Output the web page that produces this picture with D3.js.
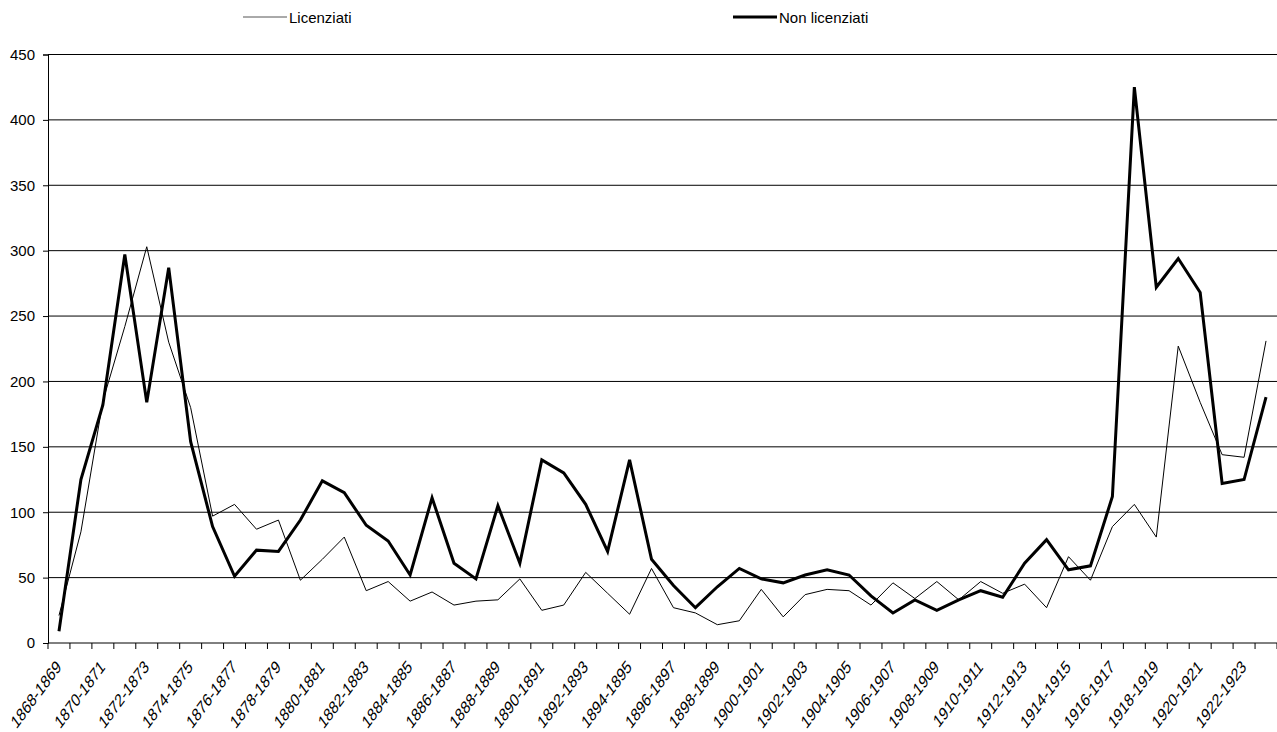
<!DOCTYPE html>
<html>
<head>
<meta charset="utf-8">
<script src="https://cdnjs.cloudflare.com/ajax/libs/d3/7.8.5/d3.min.js"></script>
<style>
  html, body { margin: 0; padding: 0; background: #fff; }
  svg { display: block; font-family: "Liberation Sans", Arial, sans-serif; }
</style>
</head>
<body>
<svg id="chart" width="1277" height="732"></svg>
<script>
// Academic years on the horizontal axis
const categories = [
  "1868-1869","1869-1870","1870-1871","1871-1872","1872-1873","1873-1874","1874-1875","1875-1876",
  "1876-1877","1877-1878","1878-1879","1879-1880","1880-1881","1881-1882","1882-1883","1883-1884",
  "1884-1885","1885-1886","1886-1887","1887-1888","1888-1889","1889-1890","1890-1891","1891-1892",
  "1892-1893","1893-1894","1894-1895","1895-1896","1896-1897","1897-1898","1898-1899","1899-1900",
  "1900-1901","1901-1902","1902-1903","1903-1904","1904-1905","1905-1906","1906-1907","1907-1908",
  "1908-1909","1909-1910","1910-1911","1911-1912","1912-1913","1913-1914","1914-1915","1915-1916",
  "1916-1917","1917-1918","1918-1919","1919-1920","1920-1921","1921-1922","1922-1923","1923-1924"
];

// Series: thin line
const licenziati = [
  21, 85, 185, 242, 303, 230, 180, 97, 106, 87, 94, 48, 64, 81, 40, 47,
  32, 39, 29, 32, 33, 49, 25, 29, 54, 38, 22, 57, 27, 23, 14, 17,
  41, 20, 37, 41, 40, 29, 46, 34, 47, 33, 47, 38, 45, 27, 66, 48,
  89, 106, 81, 227, 184, 144, 142, 231
];

// Series: heavy line
const nonLicenziati = [
  9, 125, 182, 297, 184, 287, 154, 89, 51, 71, 70, 94, 124, 115, 90, 78,
  52, 111, 61, 49, 105, 61, 140, 130, 106, 70, 140, 64, 44, 27, 43, 57,
  49, 46, 52, 56, 52, 36, 23, 33, 25, 33, 40, 35, 61, 79, 56, 59,
  112, 425, 272, 294, 268, 122, 125, 188
];

const yTicks = [0, 50, 100, 150, 200, 250, 300, 350, 400, 450];
const seriesNames = ["Licenziati", "Non licenziati"];

const svg = d3.select("#chart");
const plotLeft = 48, plotRight = 1277, plotTop = 54.5, plotBottom = 643;

const x = d3.scaleBand().domain(categories).range([plotLeft, plotRight]).padding(0);
const y = d3.scaleLinear().domain([0, 450]).range([plotBottom, plotTop]);
const bw = x.bandwidth();

// Horizontal gridlines
svg.append("g")
  .selectAll("line")
  .data(yTicks.filter(d => d > 0))
  .join("line")
  .attr("x1", plotLeft).attr("x2", plotRight)
  .attr("y1", d => y(d)).attr("y2", d => y(d))
  .attr("stroke", "#000").attr("stroke-width", 1);

// Y axis
const yAxis = svg.append("g")
  .attr("transform", `translate(${plotLeft},0)`)
  .call(d3.axisLeft(y).tickValues(yTicks).tickSize(5).tickPadding(8).tickFormat(d3.format("d")));
yAxis.select(".domain").attr("stroke", "#000");
yAxis.selectAll(".tick line").attr("stroke", "#000");
yAxis.selectAll("text").attr("font-size", 15).attr("fill", "#000")
  .attr("font-family", "Liberation Sans, Arial, sans-serif");

// X axis line and boundary ticks
const xg = svg.append("g");
xg.append("line")
  .attr("x1", plotLeft).attr("x2", plotRight)
  .attr("y1", plotBottom).attr("y2", plotBottom)
  .attr("stroke", "#000");
xg.selectAll("line.tk")
  .data(categories.concat([null]))
  .join("line")
  .attr("class", "tk")
  .attr("x1", (d, i) => plotLeft + i * bw).attr("x2", (d, i) => plotLeft + i * bw)
  .attr("y1", plotBottom).attr("y2", plotBottom + 6)
  .attr("stroke", "#000");

// Rotated labels on every second category
const labelGroups = xg.selectAll("g.lbl")
  .data(categories.filter((d, i) => i % 2 === 0))
  .join("g")
  .attr("class", "lbl")
  .attr("transform", d => `translate(${x(d) + bw / 2 + 3},${plotBottom + 25})`);
labelGroups.append("g")
  .attr("transform", "scale(1,1.35) rotate(-45)")
  .append("text")
  .attr("x", 0).attr("y", 0)
  .attr("text-anchor", "end")
  .attr("font-size", 13.5)
  .attr("fill", "#000")
  .text(d => d);

// Series lines
const line = data => d3.line()
  .x((d, i) => x(categories[i]) + bw / 2)
  .y(d => y(d))(data);

svg.append("path")
  .attr("d", line(licenziati))
  .attr("fill", "none").attr("stroke", "#000").attr("stroke-width", 1)
  .attr("stroke-linejoin", "miter");

svg.append("path")
  .attr("d", line(nonLicenziati))
  .attr("fill", "none").attr("stroke", "#000").attr("stroke-width", 3)
  .attr("stroke-linejoin", "miter");

// Legend
const legend = [
  { name: seriesNames[0], x: 243, w: 1 },
  { name: seriesNames[1], x: 733, w: 3 }
];
const lg = svg.append("g").selectAll("g").data(legend).join("g")
  .attr("transform", d => `translate(${d.x},17)`);
lg.append("line").attr("x1", 0).attr("x2", 44).attr("y1", 0).attr("y2", 0)
  .attr("stroke", d => d.w === 1 ? "#555" : "#000").attr("stroke-width", d => d.w);
lg.append("text").attr("x", 46).attr("y", 5.5).attr("font-size", 15).attr("fill", "#000")
  .text(d => d.name);
</script>
</body>
</html>
